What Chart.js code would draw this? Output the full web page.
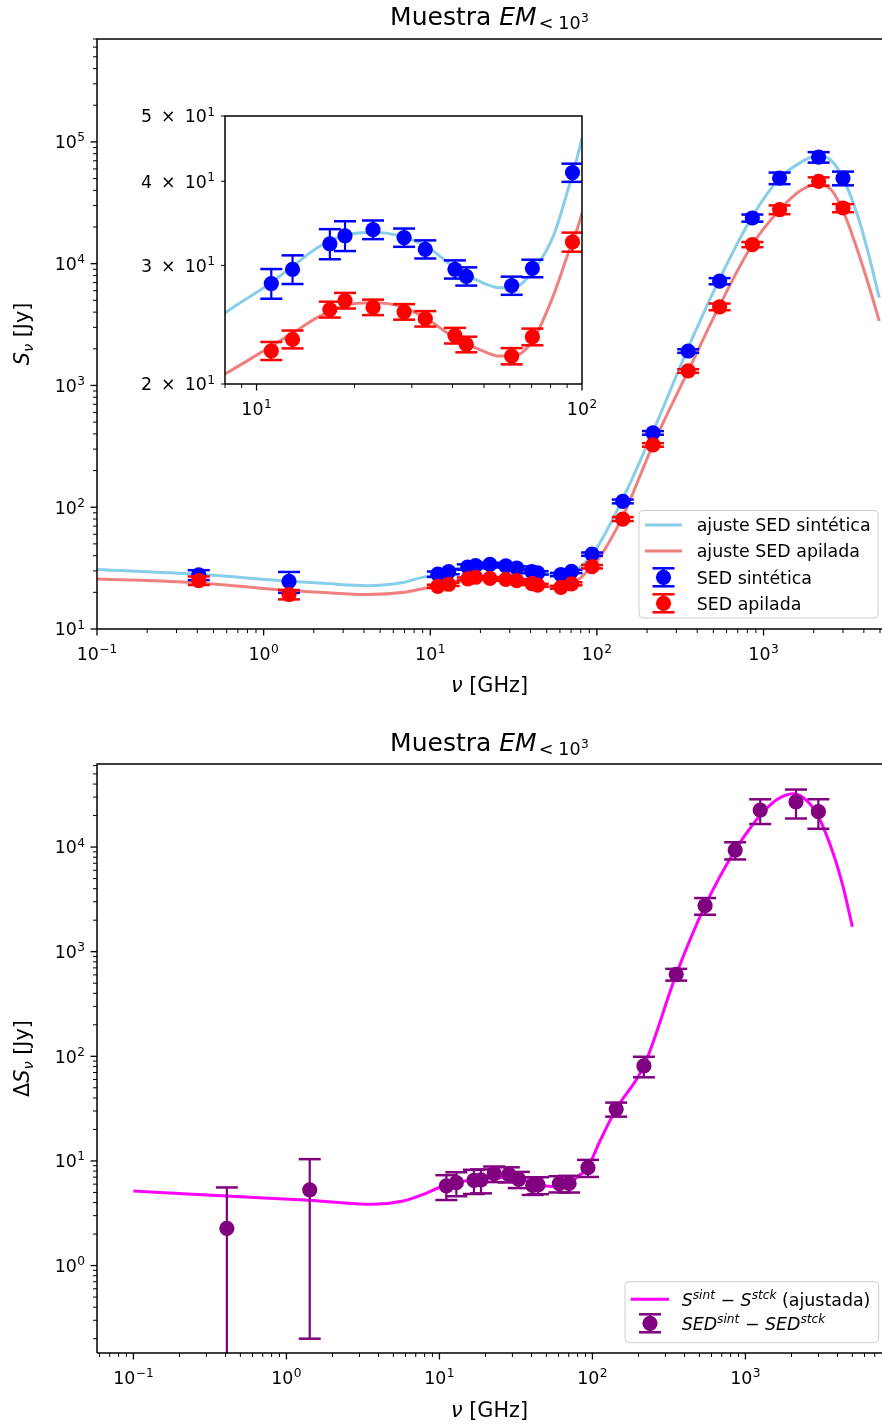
<!DOCTYPE html>
<html>
<head>
<meta charset="utf-8">
<script src="https://cdn.jsdelivr.net/npm/chart.js@4.4.1/dist/chart.umd.min.js"></script>
<style>
  body { margin: 0; background: #fff; width: 882px; height: 1427px; position: relative; overflow: hidden; }
  canvas { position: absolute; }
  #top { left: 0; top: 0; }
  #inset { left: 120px; top: 95px; }
  #bottom { left: 0; top: 720px; }
</style>
</head>
<body>
<canvas id="top" width="882" height="720"></canvas>
<canvas id="inset" width="480" height="340"></canvas>
<canvas id="bottom" width="882" height="707"></canvas>
<script>
// frecuencias de las bandas (GHz)
const FREQ = [0.408, 1.42, 11.1, 12.9, 16.8, 18.7, 22.8, 28.4, 33.0, 40.7, 44.1, 60.8, 70.4, 93.5, 143, 217, 353, 545, 857, 1249, 2141, 2998];

// SED sintetica y apilada (Jy)
const SED_SINT = [27.8, 24.6, 28.2, 29.6, 32.3, 33.2, 33.9, 33.0, 31.7, 29.6, 28.9, 28.0, 29.7, 41.2, 111.6, 408, 1918, 7190, 23730, 50500, 75000, 50500];
const ERR_SINT = [2.6, 4.8, 1.43, 1.45, 1.66, 1.69, 1.08, 1.03, 0.98, 0.92, 0.90, 0.87, 0.89, 1.28, 4, 14, 65, 420, 1600, 5500, 7400, 6500];
const SED_APIL = [25.0, 19.2, 22.4, 23.3, 25.8, 26.6, 26.0, 25.6, 25.0, 23.6, 22.9, 22.0, 23.5, 32.5, 80.0, 325, 1315, 4425, 14360, 27800, 47440, 28660];
const ERR_APIL = [2.0, 1.7, 0.69, 0.71, 0.70, 0.71, 0.69, 0.68, 0.66, 0.63, 0.61, 0.61, 0.67, 1.06, 3, 11, 45, 280, 700, 2300, 3700, 2200];

// ajustes
const FIT_FREQ = [0.1, 0.408, 1.42, 2.29, 4.17, 7, 8, 11, 12.9, 15.6, 18.9, 22.8, 27.5, 33.3, 40.2, 48.5, 55.9, 61.5, 70.9, 81.5, 89.9, 100, 142, 218, 353, 549, 858, 1254, 1645, 2109, 2566, 3066, 3681, 4204, 4950];
const FIT_SINT = [30.8, 28.1, 24.7, 23.7, 22.7, 24.2, 25.5, 28.2, 29.9, 32.0, 33.3, 33.6, 33.2, 32.0, 29.9, 28.4, 27.8, 27.8, 29.5, 33.1, 38.4, 46.4, 115, 424, 2040, 7650, 24500, 50500, 67000, 77400, 69800, 47300, 24500, 13000, 5250];
const FIT_APIL = [25.8, 23.9, 20.7, 19.9, 19.2, 20.0, 20.7, 22.7, 23.8, 25.2, 26.2, 26.4, 26.1, 25.0, 23.5, 22.5, 22.0, 22.0, 23.3, 27.0, 30.9, 35.9, 82.4, 330, 1315, 4630, 14360, 27800, 39300, 44600, 40000, 25300, 12650, 7180, 3380];

// diferencia sintetica - apilada
const DIF_SED = [2.27, 5.3, 5.77, 6.2, 6.53, 6.6, 7.56, 7.46, 6.68, 5.85, 5.9, 6.07, 6.1, 8.63, 31.3, 81, 607, 2755, 9360, 22600, 27100, 21800];
const ERR_DIF = [3.31, 5.1, 1.54, 1.6, 1.7, 1.7, 1.28, 1.23, 1.18, 1.12, 1.09, 1.07, 1.11, 1.6, 4.8, 18, 78, 500, 1750, 6000, 8350, 6850];
const DIF_FIT_FREQ = [0.1, 0.405, 1.41, 3.67, 5.8, 7.86, 10.2, 17.3, 29.4, 49.8, 61, 84, 93, 112, 143, 217, 353, 545, 857, 1018, 1246, 1600, 2057, 2510, 2994, 3750, 4364, 5000];
const DIF_FIT = [5.16, 4.62, 4.21, 3.85, 4.14, 4.80, 5.64, 6.68, 6.93, 5.77, 5.7, 7.46, 8.63, 15.5, 31.3, 81, 607, 2755, 9360, 13600, 20000, 28300, 32300, 27900, 19600, 8670, 4090, 1730];

// ticks etiquetados del recuadro
const INSET_Y_TICKS = [20, 30, 40, 50];
const INSET_X_TICKS = [10, 100];

const SKY = '#87ceeb', CORAL = '#f08080', BLUE = '#0000ff', RED = '#ff0000', MAGENTA = '#ff00ff', PURPLE = '#800080';
const FONT = '"DejaVu Sans", sans-serif';
const TICK = 17.4, LAB = 20.8, TIT = 25, LEG = 17.4;

function font(size, italic) { return (italic ? 'italic ' : '') + size + 'px ' + FONT; }

function rich(ctx, parts, x, y, align) {
    let w = 0;
    parts.forEach((p) => { ctx.font = font(p.s, p.i); w += (p.g || 0) + ctx.measureText(p.t).width; });
    let cx = align === 'center' ? x - w / 2 : align === 'right' ? x - w : x;
    ctx.textAlign = 'left';
    ctx.textBaseline = 'alphabetic';
    parts.forEach((p) => {
        cx += p.g || 0;
        ctx.font = font(p.s, p.i);
        ctx.fillText(p.t, cx, y + (p.dy || 0));
        cx += ctx.measureText(p.t).width;
    });
}

function pow10(v) {
    const e = Math.round(Math.log10(v));
    return [{ t: '10', s: TICK }, { t: (e < 0 ? '\u2212' : '') + Math.abs(e), s: TICK * 0.7, dy: -TICK * 0.39, g: 0.5 }];
}

function logTicks(min, max) {
    const out = { major: [], minor: [] };
    for (let e = Math.floor(Math.log10(min)); e <= Math.ceil(Math.log10(max)); e++) {
        for (let m = 1; m < 10; m++) {
            const v = m * Math.pow(10, e);
            if (v < min * 0.999 || v > max * 1.001) continue;
            (m === 1 ? out.major : out.minor).push(v);
        }
    }
    return out;
}

function line(ctx, x1, y1, x2, y2, w) {
    ctx.lineWidth = w;
    ctx.beginPath(); ctx.moveTo(x1, y1); ctx.lineTo(x2, y2); ctx.stroke();
}

function pts(xs, ys) { return xs.map((x, i) => ({ x, y: ys[i] })); }

function fitSet(xs, ys, color, order) {
    return { type: 'line', data: pts(xs, ys), borderColor: color, borderWidth: 3, pointRadius: 0,
        cubicInterpolationMode: 'monotone', clip: 0, order };
}

function sedSet(xs, ys, errs, color, order) {
    return { type: 'scatter', data: pts(xs, ys), errors: errs, backgroundColor: color, borderColor: color,
        borderWidth: 0, pointRadius: 7.6, pointHoverRadius: 7.6, clip: 0, order };
}

const errorBars = {
    id: 'errorBars',
    beforeDatasetDraw(chart, args) {
        const ds = chart.data.datasets[args.index];
        if (!ds.errors) return;
        const { ctx, chartArea: a, scales: { x, y } } = chart;
        ctx.save();
        ctx.beginPath(); ctx.rect(a.left, a.top, a.width, a.height); ctx.clip();
        ctx.strokeStyle = ds.backgroundColor;
        ds.data.forEach((p, i) => {
            const e = ds.errors[i];
            const px = x.getPixelForValue(p.x);
            const yTop = y.getPixelForValue(p.y + e);
            const lo = p.y - e;
            const yBot = lo > 0 ? y.getPixelForValue(lo) : a.bottom + 20;
            line(ctx, px, yTop, px, yBot, 2.2);
            line(ctx, px - 11, yTop, px + 11, yTop, 2.5);
            if (lo > 0) line(ctx, px - 11, yBot, px + 11, yBot, 2.5);
        });
        ctx.restore();
    }
};

function axes(cfg) {
    return {
        id: 'axes',
        beforeDatasetsDraw(chart) {
            if (!cfg.fill) return;
            const a = chart.chartArea;
            chart.ctx.save();
            chart.ctx.fillStyle = '#fff';
            chart.ctx.fillRect(a.left, a.top, a.width, a.height);
            chart.ctx.restore();
        },
        afterDraw(chart) {
            const { ctx, chartArea: a, scales: { x, y } } = chart;
            const xt = cfg.xTicks || logTicks(x.min, x.max);
            const yt = cfg.yTicks || logTicks(y.min, y.max);
            ctx.save();
            ctx.strokeStyle = '#000';
            ctx.fillStyle = '#000';
            xt.minor.forEach((v) => { const p = x.getPixelForValue(v); line(ctx, p, a.bottom, p, a.bottom + 4, 1); });
            xt.major.forEach((v) => {
                const p = x.getPixelForValue(v);
                line(ctx, p, a.bottom, p, a.bottom + 6.5, 1.3);
                rich(ctx, pow10(v), p, a.bottom + 31, 'center');
            });
            yt.minor.forEach((v) => {
                const p = y.getPixelForValue(v);
                line(ctx, a.left - 4, p, a.left, p, 1);
                if (cfg.yLabel) rich(ctx, cfg.yLabel(v), a.left - 10, p + 6.3, 'right');
            });
            yt.major.forEach((v) => {
                const p = y.getPixelForValue(v);
                line(ctx, a.left - 6.5, p, a.left, p, 1.3);
                rich(ctx, pow10(v), a.left - 12, p + 6.3, 'right');
            });
            ctx.lineWidth = 1.5;
            ctx.beginPath();
            ctx.moveTo(a.left, a.bottom); ctx.lineTo(a.left, a.top); ctx.lineTo(a.right, a.top);
            if (cfg.box) ctx.lineTo(a.right, a.bottom);
            ctx.moveTo(a.left, a.bottom); ctx.lineTo(a.right, a.bottom);
            ctx.stroke();
            if (cfg.extra) cfg.extra(ctx, a);
            ctx.restore();
        }
    };
}

function legendBox(ctx, x, y, w, h) {
    const r = 4;
    ctx.save();
    ctx.beginPath();
    ctx.moveTo(x + r, y); ctx.arcTo(x + w, y, x + w, y + h, r); ctx.arcTo(x + w, y + h, x, y + h, r);
    ctx.arcTo(x, y + h, x, y, r); ctx.arcTo(x, y, x + w, y, r); ctx.closePath();
    ctx.fillStyle = 'rgba(255,255,255,0.8)'; ctx.fill();
    ctx.strokeStyle = '#cccccc'; ctx.lineWidth = 1; ctx.stroke();
    ctx.restore();
}

function legendLine(ctx, x1, x2, y, color) {
    ctx.save(); ctx.strokeStyle = color; ctx.lineCap = 'butt'; line(ctx, x1, y, x2, y, 3); ctx.restore();
}

function legendErr(ctx, cx, cy, color) {
    ctx.save();
    ctx.strokeStyle = color; ctx.fillStyle = color;
    line(ctx, cx, cy - 9, cx, cy + 9, 2.2);
    line(ctx, cx - 11, cy - 9, cx + 11, cy - 9, 2.5);
    line(ctx, cx - 11, cy + 9, cx + 11, cy + 9, 2.5);
    ctx.beginPath(); ctx.arc(cx, cy, 7.6, 0, Math.PI * 2); ctx.fill();
    ctx.restore();
}

function title(ctx, baseline) {
    rich(ctx, [
        { t: 'Muestra ', s: TIT },
        { t: 'EM', s: TIT, i: true },
        { t: '<', s: 17.5, dy: 4, g: 2 },
        { t: '10', s: 17.5, dy: 4, g: 5 },
        { t: '3', s: 12.25, dy: -3.5, g: 0.5 }
    ], 489.5, baseline, 'center');
}

function yLabel(ctx, parts, cx, cy) {
    ctx.save();
    ctx.translate(cx, cy);
    ctx.rotate(-Math.PI / 2);
    rich(ctx, parts, 0, 0, 'center');
    ctx.restore();
}

function baseOptions(pad, xr, yr) {
    return {
        responsive: false, animation: false, events: [],
        layout: { padding: pad, autoPadding: false },
        scales: {
            x: { type: 'logarithmic', min: xr[0], max: xr[1], display: false },
            y: { type: 'logarithmic', min: yr[0], max: yr[1], display: false }
        },
        plugins: { legend: { display: false }, tooltip: { enabled: false } }
    };
}

function sedDatasets() {
    return [
        fitSet(FIT_FREQ, FIT_SINT, SKY, 4),
        fitSet(FIT_FREQ, FIT_APIL, CORAL, 3),
        sedSet(FREQ, SED_SINT, ERR_SINT, BLUE, 2),
        sedSet(FREQ, SED_APIL, ERR_APIL, RED, 1)
    ];
}

// panel superior
new Chart(document.getElementById('top'), {
    type: 'scatter',
    data: { datasets: sedDatasets() },
    options: baseOptions({ left: 97, top: 39, right: 0, bottom: 91 }, [0.1, 5140], [10, 7e5]),
    plugins: [errorBars, axes({
        extra(ctx) {
            title(ctx, 25);
            rich(ctx, [{ t: '\u03bd', s: LAB, i: true }, { t: ' [GHz]', s: LAB }], 489.5, 692, 'center');
            yLabel(ctx, [{ t: 'S', s: LAB, i: true }, { t: '\u03bd', s: 14.6, i: true, dy: 4 }, { t: ' [Jy]', s: LAB }], 28.5, 334);
            legendBox(ctx, 639, 510.5, 239, 107.5);
            legendLine(ctx, 645, 682, 525, SKY);
            legendLine(ctx, 645, 682, 551, CORAL);
            legendErr(ctx, 663.5, 577.3, BLUE);
            legendErr(ctx, 663.5, 603.3, RED);
            ['ajuste SED sint\u00e9tica', 'ajuste SED apilada', 'SED sint\u00e9tica', 'SED apilada'].forEach((t, i) => {
                rich(ctx, [{ t, s: LEG }], 696.7, 525 + i * 26.1 + 6.3, 'left');
            });
        }
    })]
});

// recuadro ampliado
new Chart(document.getElementById('inset'), {
    type: 'scatter',
    data: { datasets: sedDatasets() },
    options: baseOptions({ left: 105, top: 21, right: 18, bottom: 51 }, [8, 100], [20, 50]),
    plugins: [errorBars, axes({
        fill: true,
        box: true,
        xTicks: { major: INSET_X_TICKS, minor: logTicks(8, 100).minor },
        yTicks: { major: [], minor: INSET_Y_TICKS },
        yLabel: (v) => [
            { t: String(v / 10), s: TICK },
            { t: '\u00d7', s: TICK, g: 9 },
            { t: '10', s: TICK, g: 9 },
            { t: '1', s: TICK * 0.7, dy: -TICK * 0.39, g: 0.5 }
        ]
    })]
});

// panel inferior
new Chart(document.getElementById('bottom'), {
    type: 'scatter',
    data: {
        datasets: [
            fitSet(DIF_FIT_FREQ, DIF_FIT, MAGENTA, 2),
            sedSet(FREQ, DIF_SED, ERR_DIF, PURPLE, 1)
        ]
    },
    options: baseOptions({ left: 97, top: 44, right: 0, bottom: 74 }, [0.0578, 7810], [0.146, 62200]),
    plugins: [errorBars, axes({
        extra(ctx) {
            title(ctx, 31);
            rich(ctx, [{ t: '\u03bd', s: LAB, i: true }, { t: ' [GHz]', s: LAB }], 489.5, 697, 'center');
            yLabel(ctx, [{ t: '\u0394', s: LAB }, { t: 'S', s: LAB, i: true }, { t: '\u03bd', s: 14.6, i: true, dy: 4 }, { t: ' [Jy]', s: LAB }], 28.5, 338.5);
            legendBox(ctx, 625, 561.7, 253.7, 61);
            legendLine(ctx, 630.7, 669, 579.3, MAGENTA);
            legendErr(ctx, 650, 603.3, PURPLE);
            const sup = { s: 12.2, i: true, dy: -7 };
            rich(ctx, [
                { t: 'S', s: LEG, i: true }, { ...sup, t: 'sint' }, { t: ' \u2212 ', s: LEG },
                { t: 'S', s: LEG, i: true }, { ...sup, t: 'stck' }, { t: ' (ajustada)', s: LEG }
            ], 681.7, 585.6, 'left');
            rich(ctx, [
                { t: 'SED', s: LEG, i: true }, { ...sup, t: 'sint' }, { t: ' \u2212 ', s: LEG },
                { t: 'SED', s: LEG, i: true }, { ...sup, t: 'stck' }
            ], 681.7, 609.6, 'left');
        }
    })]
});
</script>
</body>
</html>
